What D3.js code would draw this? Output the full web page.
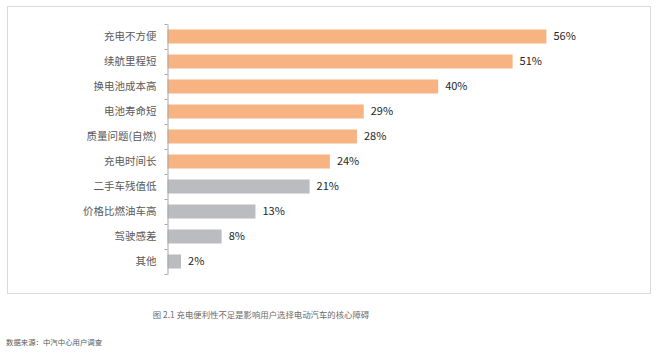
<!DOCTYPE html>
<html>
<head>
<meta charset="utf-8">
<script src="https://cdn.jsdelivr.net/npm/d3@7"></script>
<style>
  body { margin: 0; background: #fff; }
  text { font-family: "Noto Sans CJK SC", "Noto Sans", sans-serif; }
</style>
</head>
<body>
<script>
// data
var categories = ["充电不方便", "续航里程短", "换电池成本高", "电池寿命短", "质量问题(自燃)",
                  "充电时间长", "二手车残值低", "价格比燃油车高", "驾驶感差", "其他"];
var values = [56, 51, 40, 29, 28, 24, 21, 13, 8, 2];
var highlighted = [true, true, true, true, true, true, false, false, false, false];
var caption = "图 2.1 充电便利性不足是影响用户选择电动汽车的核心障碍";
var source = "数据来源：中汽中心用户调查";

var width = 656, height = 354;
var svg = d3.select('body').append('svg')
    .attr('width', width).attr('height', height);

// dotted frame
svg.append('rect')
    .attr('x', 7.5).attr('y', 6.5)
    .attr('width', 643).attr('height', 287)
    .attr('fill', 'none')
    .attr('stroke', '#b5b5b5')
    .attr('stroke-dasharray', '1,1');

var axisX = 167.5;

var xScale = d3.scaleLinear()
    .domain([0, 60])
    .range([axisX, axisX + 406]);

var yScale = d3.scaleBand()
    .domain(categories)
    .range([24, 274])
    .paddingInner(0.44)
    .paddingOuter(0.22);

// bars
svg.selectAll('rect.bar').data(values).enter().append('rect')
    .attr('class', 'bar')
    .attr('x', xScale(0))
    .attr('y', (d, i) => yScale(categories[i]))
    .attr('width', d => xScale(d) - xScale(0))
    .attr('height', yScale.bandwidth())
    .attr('fill', (d, i) => highlighted[i] ? '#f8b382' : '#bbbcc0');

// value labels
svg.selectAll('text.val').data(values).enter().append('text')
    .attr('class', 'val')
    .attr('x', d => xScale(d) + 7)
    .attr('y', (d, i) => yScale(categories[i]) + yScale.bandwidth() / 2)
    .attr('dy', '0.35em')
    .attr('font-size', 11)
    .attr('fill', '#262626')
    .text(d => d + '%');

// category axis
var y_axis = d3.axisLeft(yScale).tickSize(0).tickPadding(11);
var gAxis = svg.append('g')
    .attr('transform', 'translate(' + axisX + ',0)')
    .call(y_axis);
gAxis.select('.domain').attr('stroke', '#a6a6a6');
gAxis.selectAll('text')
    .attr('font-size', 10.5)
    .attr('fill', '#595959')
    .style('font-family', '"Noto Sans CJK SC", sans-serif');

// tick marks at the band edges
var edges = categories.map(c => yScale(c) - yScale.step() * yScale.paddingInner() / 2);
edges.push(yScale.range()[1]);
edges[0] = yScale.range()[0];
gAxis.selectAll('line.edge').data(edges).enter().append('line')
    .attr('class', 'edge')
    .attr('x1', -3).attr('x2', 0)
    .attr('y1', d => Math.round(d) + 0.5).attr('y2', d => Math.round(d) + 0.5)
    .attr('stroke', '#a6a6a6');

// caption and source
svg.append('text')
    .attr('x', 261).attr('y', 317.5)
    .attr('text-anchor', 'middle')
    .attr('font-size', 8.4)
    .attr('fill', '#6b6b6b')
    .text(caption);

svg.append('text')
    .attr('x', 6).attr('y', 344.5)
    .attr('font-size', 7.4)
    .attr('fill', '#595959')
    .text(source);
</script>
</body>
</html>
